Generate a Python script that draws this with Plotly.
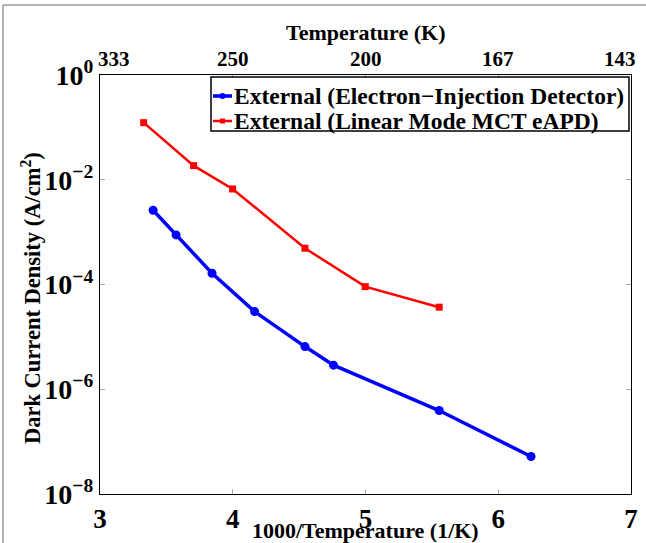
import plotly.graph_objects as go

# Data (x = 1000/T in 1/K, y = dark current density in A/cm^2)
inv_temp_eid = [3.40, 3.573, 3.844, 4.165, 4.544, 4.759, 5.555, 6.247]
dark_eid = [2.62e-3, 8.85e-4, 1.64e-4, 3.04e-5, 6.53e-6, 2.88e-6, 3.92e-7, 5.2e-8]

inv_temp_mct = [3.329, 3.705, 3.999, 4.544, 4.998, 5.555]
dark_mct = [0.123, 0.0186, 6.67e-3, 4.93e-4, 9.1e-5, 3.69e-5]

series_names = ["External (Electron−Injection Detector)", "External (Linear Mode MCT eAPD)"]

x_ticks = [3, 4, 5, 6, 7]
top_tick_labels = ["333", "250", "200", "167", "143"]
y_ticks = [1e-8, 1e-6, 1e-4, 1e-2, 1e0]
y_tick_labels = ["10<sup>−8</sup>", "10<sup>−6</sup>", "10<sup>−4</sup>", "10<sup>−2</sup>", "10<sup>0</sup>"]

FONT = "Liberation Serif"
W, H = 646, 543
L, R, T, B = 100, 15, 75, 49
pw, ph = W - L - R, H - T - B

def px(xp):
    return (xp - L) / pw

def py(yp):
    return (H - B - yp) / ph

BLUE, RED = "#0000ff", "#ff0000"

fig = go.Figure()
fig.add_trace(go.Scatter(
    x=inv_temp_eid, y=dark_eid, mode="lines+markers", name=series_names[0],
    line=dict(color=BLUE, width=3.5),
    marker=dict(symbol="circle", size=9, color=BLUE),
    showlegend=False,
))
fig.add_trace(go.Scatter(
    x=inv_temp_mct, y=dark_mct, mode="lines+markers", name=series_names[1],
    line=dict(color=RED, width=2.5),
    marker=dict(symbol="square", size=7, color=RED),
    showlegend=False,
))

annotations = [
    dict(text="1000/Temperature (1/K)", xref="paper", yref="paper",
         x=px(365), y=py(530), showarrow=False, xanchor="center", yanchor="middle",
         font=dict(family=FONT, size=22, weight="bold")),
    dict(text="Temperature (K)", xref="paper", yref="paper",
         x=px(365), y=py(33), showarrow=False, xanchor="center", yanchor="middle",
         font=dict(family=FONT, size=22, weight="bold")),
    dict(text="Dark Current Density (A/cm<sup>2</sup>)", xref="paper", yref="paper",
         x=px(31), y=py(298), showarrow=False, xanchor="center", yanchor="middle",
         textangle=-90, font=dict(family=FONT, size=22.5, weight="bold")),
]
# top axis (temperature) tick labels
shifts = [14, 0, 0, 0, -11]
for xv, lab, sh in zip(x_ticks, top_tick_labels, shifts):
    annotations.append(dict(text=lab, xref="x", yref="paper", x=xv, y=py(59),
                            xshift=sh, showarrow=False, xanchor="center", yanchor="middle",
                            font=dict(family=FONT, size=21, weight="bold")))

# legend (drawn manually to match the compact box)
LEG_X0, LEG_X1, LEG_Y0, LEG_Y1 = 211, 629, 77, 131
row_y = [96, 121]
leg_colors = [BLUE, RED]
leg_widths = [3.5, 2.5]
shapes = [
    dict(type="rect", xref="paper", yref="paper", x0=px(LEG_X0), x1=px(LEG_X1),
         y0=py(LEG_Y1), y1=py(LEG_Y0), line=dict(color="black", width=1.5),
         fillcolor="white", layer="above"),
]
for i in range(2):
    shapes.append(dict(type="line", xref="paper", yref="paper", x0=px(213), x1=px(232),
                       y0=py(row_y[i]), y1=py(row_y[i]),
                       line=dict(color=leg_colors[i], width=leg_widths[i]), layer="above"))
    annotations.append(dict(text=series_names[i], xref="paper", yref="paper",
                            x=px(232), y=py(row_y[i]), showarrow=False,
                            xanchor="left", yanchor="middle",
                            font=dict(family=FONT, size=23.5, weight="bold")))
# legend marker glyphs
shapes.append(dict(type="circle", xref="paper", yref="paper", x0=px(219.5), x1=px(225.5),
                   y0=py(row_y[0] + 3), y1=py(row_y[0] - 3), fillcolor=BLUE,
                   line=dict(color=BLUE, width=0), layer="above"))
shapes.append(dict(type="rect", xref="paper", yref="paper", x0=px(220), x1=px(225),
                   y0=py(row_y[1] + 2.5), y1=py(row_y[1] - 2.5), fillcolor=RED,
                   line=dict(color=RED, width=0), layer="above"))
# outer frame (left and top edges)
shapes.append(dict(type="line", xref="paper", yref="paper", x0=px(3), x1=px(3), y0=py(5), y1=py(543),
                   line=dict(color="#999999", width=1.5)))
shapes.append(dict(type="line", xref="paper", yref="paper", x0=px(3), x1=px(646), y0=py(5), y1=py(5),
                   line=dict(color="#999999", width=1.5)))

fig.update_layout(
    width=W, height=H,
    margin=dict(l=L, r=R, t=T, b=B, autoexpand=False),
    paper_bgcolor="white", plot_bgcolor="white",
    font=dict(family=FONT, color="black", weight="bold"),
    showlegend=False,
    xaxis=dict(
        range=[3, 7], tickvals=x_ticks, ticktext=[str(v) for v in x_ticks],
        showgrid=False, zeroline=False, automargin=False,
        showline=True, linecolor="black", linewidth=1.2, mirror="ticks",
        ticks="inside", ticklen=5, tickcolor="#aaaaaa", tickwidth=1,
        tickfont=dict(family=FONT, size=27, weight="bold"),
    ),
    yaxis=dict(
        type="log", range=[-8, 0], tickvals=y_ticks, ticktext=y_tick_labels,
        showgrid=False, zeroline=False, automargin=False,
        showline=True, linecolor="black", linewidth=1.2, mirror="ticks",
        ticks="inside", ticklen=5, tickcolor="#aaaaaa", tickwidth=1,
        tickfont=dict(family=FONT, size=28, weight="bold"),
    ),
    annotations=annotations,
    shapes=shapes,
)

fig.write_html("out.html")
